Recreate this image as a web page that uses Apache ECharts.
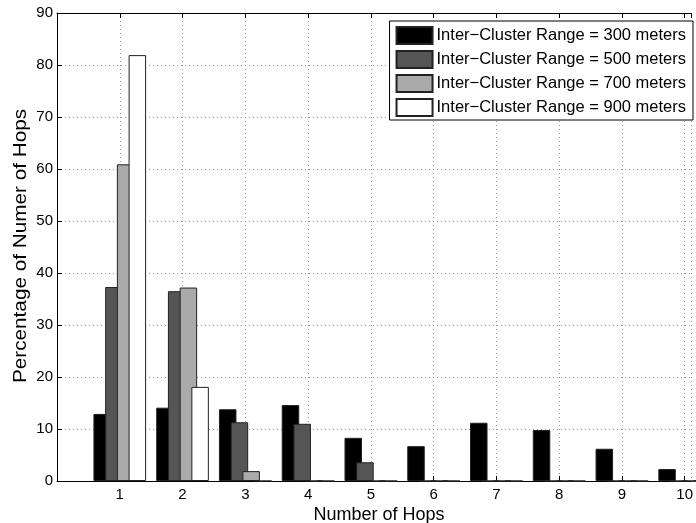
<!DOCTYPE html>
<html>
<head>
<meta charset="utf-8">
<script src="https://cdn.jsdelivr.net/npm/echarts@6/dist/echarts.min.js"></script>
<style>
html,body{margin:0;padding:0;background:#fff;}
#chart{width:696px;height:523px;}
</style>
</head>
<body>
<div id="chart"></div>
<script>
// Data
var hops = [1, 2, 3, 4, 5, 6, 7, 8, 9, 10];
var seriesNames = [
  'Inter\u2212Cluster Range = 300 meters',
  'Inter\u2212Cluster Range = 500 meters',
  'Inter\u2212Cluster Range = 700 meters',
  'Inter\u2212Cluster Range = 900 meters'
];
var range300 = [12.9, 14.1, 13.8, 14.6, 8.3, 6.7, 11.2, 9.8, 6.2, 2.3];
var range500 = [37.3, 36.5, 11.3, 11.0, 3.6, 0, 0, 0, 0, 0];
var range700 = [60.9, 37.2, 1.9, 0, 0, 0, 0, 0, 0, 0];
var range900 = [81.9, 18.1, 0, 0, 0, 0, 0, 0, 0, 0];
var yTicks = [0, 10, 20, 30, 40, 50, 60, 70, 80, 90];
var xLabel = 'Number of Hops';
var yLabel = 'Percentage of Numer of Hops';

var colors = ['#000000', '#555555', '#aaaaaa', '#ffffff'];
var values = [range300, range500, range700, range900];
var FONT = '"Liberation Sans", Arial, Helvetica, sans-serif';

function pairs(arr) { return hops.map(function (h, i) { return [h, arr[i]]; }); }

var chart = echarts.init(document.getElementById('chart'));
var gridLine = { show: true, lineStyle: { color: '#9a9a9a', type: [1, 3], width: 1 } };
var xMax = 10.11;
var option = {
  animation: false,
  backgroundColor: '#fff',
  textStyle: { fontFamily: FONT },
  grid: { left: 57, top: 13, width: 639, height: 468, containLabel: false },
  xAxis: [{
    type: 'value', min: 0, max: xMax, interval: 1, position: 'bottom',
    axisLine: { show: true, lineStyle: { color: '#000', width: 1 } },
    axisTick: { show: true, inside: true, length: 5, lineStyle: { color: '#000' } },
    axisLabel: { color: '#000', fontSize: 15, fontFamily: FONT, margin: 6, showMaxLabel: false,
      formatter: function (v) { return hops.indexOf(v) >= 0 ? String(v) : ''; } },
    splitLine: gridLine
  }, {
    type: 'value', min: 0, max: xMax, interval: 1, position: 'top',
    axisLine: { show: true, lineStyle: { color: '#000', width: 1 } },
    axisTick: { show: true, inside: true, length: 5, lineStyle: { color: '#000' } },
    axisLabel: { show: false }, splitLine: { show: false }
  }],
  yAxis: {
    type: 'value', min: yTicks[0], max: yTicks[yTicks.length - 1], interval: 10,
    axisLine: { show: true, lineStyle: { color: '#000', width: 1 } },
    axisTick: { show: true, inside: true, length: 5, lineStyle: { color: '#000' } },
    axisLabel: { color: '#000', fontSize: 15, fontFamily: FONT, margin: 4 },
    splitLine: gridLine
  },
  legend: {
    orient: 'vertical', right: 3, top: 21,
    backgroundColor: '#fff', borderColor: '#000', borderWidth: 1,
    padding: [5, 7, 3, 6], itemGap: 5, itemWidth: 36, itemHeight: 17,
    icon: 'rect',
    textStyle: { color: '#000', fontSize: 16.5, lineHeight: 17, fontFamily: FONT, padding: [0, 0, 0, -1] },
    data: seriesNames
  },
  graphic: [
    { type: 'text', x: 379, y: 515, scaleY: 1.05,
      style: { text: xLabel, fill: '#000', font: '18px ' + FONT, textAlign: 'center', textVerticalAlign: 'middle' } },
    { type: 'text', x: 21, y: 246, rotation: Math.PI / 2, scaleX: 1.12,
      style: { text: yLabel, fill: '#000', font: '18.5px ' + FONT, textAlign: 'center', textVerticalAlign: 'middle' } }
  ],
  series: seriesNames.map(function (name, k) {
    return {
      name: name, type: 'bar', xAxisIndex: 0,
      data: pairs(values[k]),
      barWidth: 17.5, barGap: '-33%',
      itemStyle: { color: colors[k], borderColor: '#222', borderWidth: 1 },
      z: 2 + k
    };
  })
};
chart.setOption(option);
</script>
</body>
</html>
